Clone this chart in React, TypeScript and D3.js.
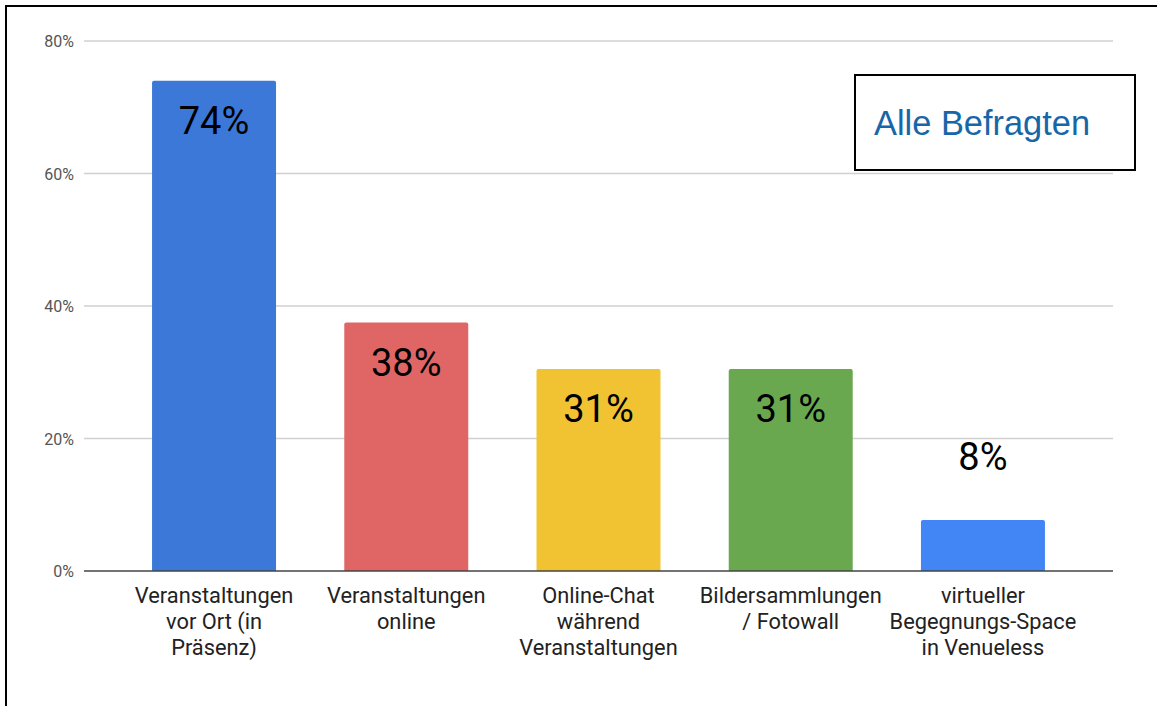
import React, { useEffect } from 'react';
import * as d3 from 'd3';

// categories are split into display lines
const categories = [
    'Veranstaltungen vor Ort (in Präsenz)',
    'Veranstaltungen online',
    'Online-Chat während Veranstaltungen',
    'Bildersammlungen / Fotowall',
    'virtueller Begegnungs-Space in Venueless'
];
const categoryLines = [
    ['Veranstaltungen', 'vor Ort (in', 'Präsenz)'],
    ['Veranstaltungen', 'online'],
    ['Online-Chat', 'während', 'Veranstaltungen'],
    ['Bildersammlungen', '/ Fotowall'],
    ['virtueller', 'Begegnungs-Space', 'in Venueless']
];
const values = [74, 37.5, 30.5, 30.5, 7.7];
const valueLabels = ['74%', '38%', '31%', '31%', '8%'];
const barColors = ['#3c78d8', '#e06666', '#f1c232', '#6aa84f', '#4285f4'];
const yTicks = [0, 20, 40, 60, 80];

const WIDTH = 1157;
const HEIGHT = 706;

const App: React.FC = () => {
    useEffect(() => {
        document.body.style.margin = '0';
    }, []);

    const x = d3.scaleBand<string>()
        .domain(categories)
        .range([84, 1113])
        .paddingInner(0.355)
        .paddingOuter(0.354);

    const y = d3.scaleLinear()
        .domain([0, 80])
        .range([571, 41]);

    const font = 'Roboto, "Noto Sans", sans-serif';

    return (
        <svg width={WIDTH} height={HEIGHT} style={{ display: 'block', background: '#fff' }}>
            {/* outer frame (only top and left visible) */}
            <rect x={6} y={6} width={WIDTH + 20} height={HEIGHT + 20} fill="none" stroke="#000" strokeWidth={2} />

            {/* gridlines + tick labels */}
            {yTicks.map(t => (
                <g key={t}>
                    {t !== 0 && (
                        <line x1={84} x2={1113} y1={y(t)} y2={y(t)} stroke="#d0d0d0" strokeWidth={1.3} />
                    )}
                    <text x={74} y={y(t) + 6} textAnchor="end" fontFamily={font} fontSize={16} fill="#555">
                        {t}%
                    </text>
                </g>
            ))}

            {/* bars */}
            {categories.map((c, i) => {
                const bx = x(c) as number;
                const bw = x.bandwidth();
                const top = y(values[i]);
                const h = y(0) - top;
                const inside = h > 70;
                return (
                    <g key={c}>
                        <path
                            d={`M${bx},${y(0)}V${top + 2}Q${bx},${top} ${bx + 2},${top}H${bx + bw - 2}Q${bx + bw},${top} ${bx + bw},${top + 2}V${y(0)}Z`}
                            fill={barColors[i]}
                        />
                        <text
                            x={bx + bw / 2}
                            y={inside ? top + 53 : top - 50}
                            textAnchor="middle"
                            fontFamily={font}
                            fontSize={38}
                            fill="#000"
                        >
                            {valueLabels[i]}
                        </text>
                        {categoryLines[i].map((ln, j) => (
                            <text
                                key={j}
                                x={bx + bw / 2}
                                y={603 + j * 26}
                                textAnchor="middle"
                                fontFamily={font}
                                fontSize={21.8}
                                fill="#222"
                            >
                                {ln}
                            </text>
                        ))}
                    </g>
                );
            })}

            {/* baseline */}
            <line x1={84} x2={1113} y1={y(0)} y2={y(0)} stroke="#444" strokeWidth={1.3} />

            {/* annotation box */}
            <rect x={855} y={75} width={280} height={95} fill="#fff" stroke="#000" strokeWidth={2} />
            <text x={874} y={135} fontFamily='"Liberation Sans", Arial, sans-serif' fontSize={34.4} fill="#1767a8">
                Alle Befragten
            </text>
        </svg>
    );
};

export default App;
